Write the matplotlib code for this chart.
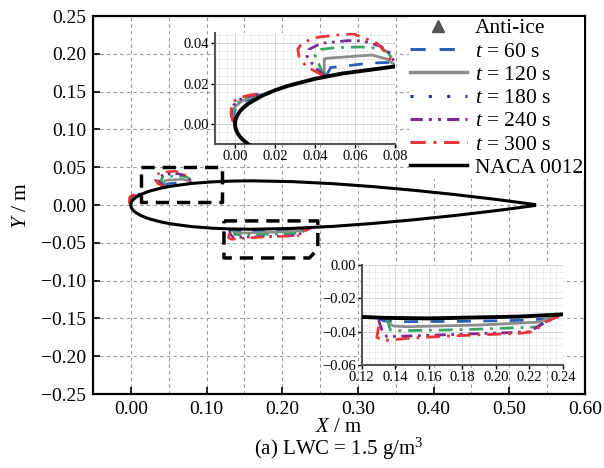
import numpy as np
import matplotlib.pyplot as plt
from matplotlib.lines import Line2D
from matplotlib.ticker import MultipleLocator, AutoMinorLocator

plt.rcParams['font.family'] = ['Liberation Serif', 'DejaVu Serif']
plt.rcParams['mathtext.fontset'] = 'custom'
plt.rcParams['mathtext.rm'] = 'Liberation Serif'
plt.rcParams['mathtext.it'] = 'Liberation Serif:italic'

# ---- datos ----
chord = 0.5334
naca_xc = np.array([0, 0.025, 0.1, 0.25, 0.5, 0.75, 1.25, 2.5, 3.75, 5, 7.5, 10, 15, 20,
                    25, 30, 40, 50, 60, 70, 80, 90, 95, 100])
naca_yc = np.array([0, 0.280, 0.556, 0.872, 1.222, 1.486, 1.894, 2.615, 3.137, 3.555, 4.200,
                    4.683, 5.345, 5.737, 5.941, 6.002, 5.803, 5.294, 4.563, 3.664, 2.623,
                    1.448, 0.807, 0.126])

nan = np.nan
# borde de ataque | cresta superior | superficie inferior
x60 = [0.0000, -0.0010, 0.0005, 0.0040, 0.0090, 0.0130, nan,
       0.0460, 0.0478, 0.0561, 0.0627, 0.0700, 0.0775, 0.0800, nan,
       0.1300, 0.1330, 0.1410, 0.1800, 0.2150, 0.2320, 0.2380]
y60 = [0.0010, 0.0040, 0.0080, 0.0110, 0.0130, 0.0142, nan,
       0.0245, 0.0280, 0.0288, 0.0297, 0.0303, 0.0305, 0.0290, nan,
       -0.0318, -0.0335, -0.0340, -0.0338, -0.0332, -0.0322, -0.0300]
x120 = [-0.0005, -0.0015, 0.0000, 0.0035, 0.0085, 0.0130, nan,
        0.0446, 0.0446, 0.0460, 0.0685, 0.0759, 0.0800, nan,
        0.1340, 0.1360, 0.1390, 0.1470, 0.1900, 0.2265, 0.2330, 0.2380]
y120 = [0.0010, 0.0045, 0.0085, 0.0115, 0.0135, 0.0145, nan,
        0.0235, 0.0322, 0.0326, 0.0342, 0.0322, 0.0292, nan,
        -0.0317, -0.0350, -0.0366, -0.0370, -0.0360, -0.0342, -0.0310, -0.0300]
x180 = [-0.0008, -0.0018, -0.0003, 0.0030, 0.0080, 0.0130, nan,
        0.0455, 0.0430, 0.0400, 0.0430, 0.0500, 0.0627, 0.0726, 0.0765, 0.0795, 0.0800, nan,
        0.1350, 0.1370, 0.1420, 0.1800, 0.2245, 0.2330, 0.2380]
y180 = [0.0012, 0.0050, 0.0090, 0.0120, 0.0140, 0.0147, nan,
        0.0243, 0.0272, 0.0340, 0.0370, 0.0378, 0.0382, 0.0375, 0.0355, 0.0310, 0.0290, nan,
        -0.0317, -0.0390, -0.0394, -0.0388, -0.0372, -0.0315, -0.0300]
x240 = [-0.0010, -0.0020, -0.0008, 0.0025, 0.0080, 0.0130, nan,
        0.0450, 0.0400, 0.0360, 0.0370, 0.0430, 0.0560, 0.0640, 0.0730, 0.0770, 0.0795, 0.0800, nan,
        0.1300, 0.1320, 0.1350, 0.1500, 0.1800, 0.2100, 0.2200, 0.2300, 0.2380]
y240 = [0.0012, 0.0050, 0.0092, 0.0122, 0.0142, 0.0148, nan,
        0.0240, 0.0280, 0.0335, 0.0370, 0.0400, 0.0413, 0.0412, 0.0385, 0.0355, 0.0310, 0.0290, nan,
        -0.0330, -0.0390, -0.0430, -0.0425, -0.0415, -0.0405, -0.0400, -0.0340, -0.0305]
x300 = [-0.0010, -0.0020, -0.0015, 0.0015, 0.0070, 0.0130, nan,
        0.0440, 0.0400, 0.0355, 0.0320, 0.0314, 0.0340, 0.0413, 0.0500, 0.0590, 0.0650, 0.0710,
        0.0750, 0.0790, 0.0800, nan,
        0.1300, 0.1290, 0.1330, 0.1470, 0.1710, 0.2140, 0.2225, 0.2300, 0.2380]
y300 = [0.0015, 0.0060, 0.0105, 0.0128, 0.0143, 0.0150, nan,
        0.0240, 0.0262, 0.0285, 0.0335, 0.0372, 0.0405, 0.0430, 0.0440, 0.0447, 0.0425, 0.0400,
        0.0360, 0.0300, 0.0290, nan,
        -0.0370, -0.0434, -0.0454, -0.0440, -0.0426, -0.0410, -0.0400, -0.0340, -0.0305]

# zonas ampliadas
box_sup_x = [0.014, 0.120, 0.120, 0.014, 0.014]
box_sup_y = [0.050, 0.050, 0.004, 0.004, 0.050]
box_inf_x = [0.123, 0.247, 0.247, 0.236, 0.123, 0.123]
box_inf_y = [-0.021, -0.021, -0.058, -0.070, -0.070, -0.021]

etiquetas = ['$t$ = 60 s', '$t$ = 120 s', '$t$ = 180 s', '$t$ = 240 s', '$t$ = 300 s']

# ---- estilos ----
estilos = [
    (x60, y60, '#2b5fb4', (5, 4.5)),
    (x120, y120, '#8c8c8c', None),
    (x180, y180, '#3aa464', (5, 2.5, 1, 2.5)),
    (x240, y240, '#7a2a90', (4, 2, 1, 2, 1, 2)),
    (x300, y300, '#e8363a', (5, 2.5, 1, 2.5)),
]
leyenda_estilos = [
    ('#2b5fb4', (5, 4.5)),
    ('#8c8c8c', None),
    ('#283593', (1, 5)),
    ('#7a2a90', (4, 2, 1, 2, 1, 2)),
    ('#e8363a', (5, 2.5, 1, 2.5)),
]

air_x = np.concatenate([naca_xc[::-1], naca_xc[1:]]) * chord / 100
air_y = np.concatenate([naca_yc[::-1], -naca_yc[1:]]) * chord / 100


def dibujar(ax, lw_ice, lw_air):
    for xs, ys, c, d in estilos:
        ln, = ax.plot(xs, ys, color=c, lw=lw_ice, zorder=3)
        if d is not None:
            ln.set_dashes(d)
    ax.plot(air_x, air_y, color='black', lw=lw_air, zorder=4)


fig = plt.figure(figsize=(6.04, 4.68), dpi=100)
ax = fig.add_axes([0.154, 0.158, 0.8145, 0.8078])
dibujar(ax, 1.8, 2.2)
for bx, by in [(box_sup_x, box_sup_y), (box_inf_x, box_inf_y)]:
    ln, = ax.plot(bx, by, color='black', lw=2.5, zorder=5)
    ln.set_dashes((3.8, 2.3))

ax.set_xlim(-0.05, 0.60)
ax.set_ylim(-0.25, 0.25)
ax.xaxis.set_major_locator(MultipleLocator(0.1))
ax.xaxis.set_minor_locator(MultipleLocator(0.05))
ax.yaxis.set_major_locator(MultipleLocator(0.05))
ax.xaxis.set_major_formatter(lambda v, p: f'{v:.2f}')
ax.yaxis.set_major_formatter(lambda v, p: f'{v:.2f}'.replace('-', '\u2212'))
ax.tick_params(which='major', direction='in', length=5, width=1.2, labelsize=14,
               top=False, right=False, pad=5)
ax.tick_params(which='minor', length=0)
ax.grid(True, which='both', color='#9a9a9a', ls=(0, (3, 3)), lw=0.8)
ax.set_axisbelow(True)
for s in ax.spines.values():
    s.set_linewidth(1.6)
ax.set_xlabel('$X$ / m', fontsize=15, labelpad=0)
ax.set_ylabel('$Y$ / m', fontsize=15.5, labelpad=7)
fig.text(0.5615, 0.040, '(a) LWC = 1.5 g/m$^3$', ha='center', va='center', fontsize=15)

handles = [Line2D([], [], ls='none', marker='^', color='#555555', markersize=9)]
for c, d in leyenda_estilos:
    h = Line2D([], [], color=c, lw=2.5 if d is None else 2.2)
    if d is not None:
        h.set_dashes(d)
    handles.append(h)
handles.append(Line2D([], [], color='black', lw=2.5))
ax.legend(handles, ['Anti-ice'] + etiquetas + ['NACA 0012'], loc='upper right',
          fontsize=15.5, frameon=True, edgecolor='none', facecolor='white', framealpha=1,
          fancybox=False, handlelength=2.65, handletextpad=0.37, labelspacing=0.15,
          borderpad=0.05, borderaxespad=0.05)

# ---- recuadros ampliados ----
def recuadro(rect, xlim, ylim, paso):
    ins = fig.add_axes(rect)
    dibujar(ins, 2.0, 2.8)
    ins.set_xlim(*xlim)
    ins.set_ylim(*ylim)
    ins.xaxis.set_major_locator(MultipleLocator(paso))
    ins.yaxis.set_major_locator(MultipleLocator(0.02))
    ins.xaxis.set_minor_locator(AutoMinorLocator(5))
    ins.yaxis.set_minor_locator(AutoMinorLocator(5))
    ins.xaxis.set_major_formatter(lambda v, p: f'{v:.2f}')
    ins.yaxis.set_major_formatter(lambda v, p: f'{v:.2f}'.replace('-', '\u2212'))
    ins.tick_params(which='major', direction='out', length=3, width=1, labelsize=10.5, pad=1.5)
    ins.tick_params(which='minor', length=0)
    ins.grid(True, which='major', color='#d0d0d0', lw=0.6)
    ins.grid(True, which='minor', color='#e6e6e6', lw=0.5)
    ins.set_axisbelow(True)
    ins.spines['top'].set_visible(False)
    ins.spines['right'].set_visible(False)
    for s in ('left', 'bottom'):
        ins.spines[s].set_color('#555555')
        ins.spines[s].set_linewidth(1.5)
    return ins


recuadro([0.356, 0.692, 0.298, 0.237], (-0.01, 0.08), (-0.01, 0.045), 0.02)
recuadro([0.599, 0.220, 0.333, 0.2137], (0.12, 0.24), (-0.06, 0.0), 0.02)

fig.savefig('out.png', dpi=100)
